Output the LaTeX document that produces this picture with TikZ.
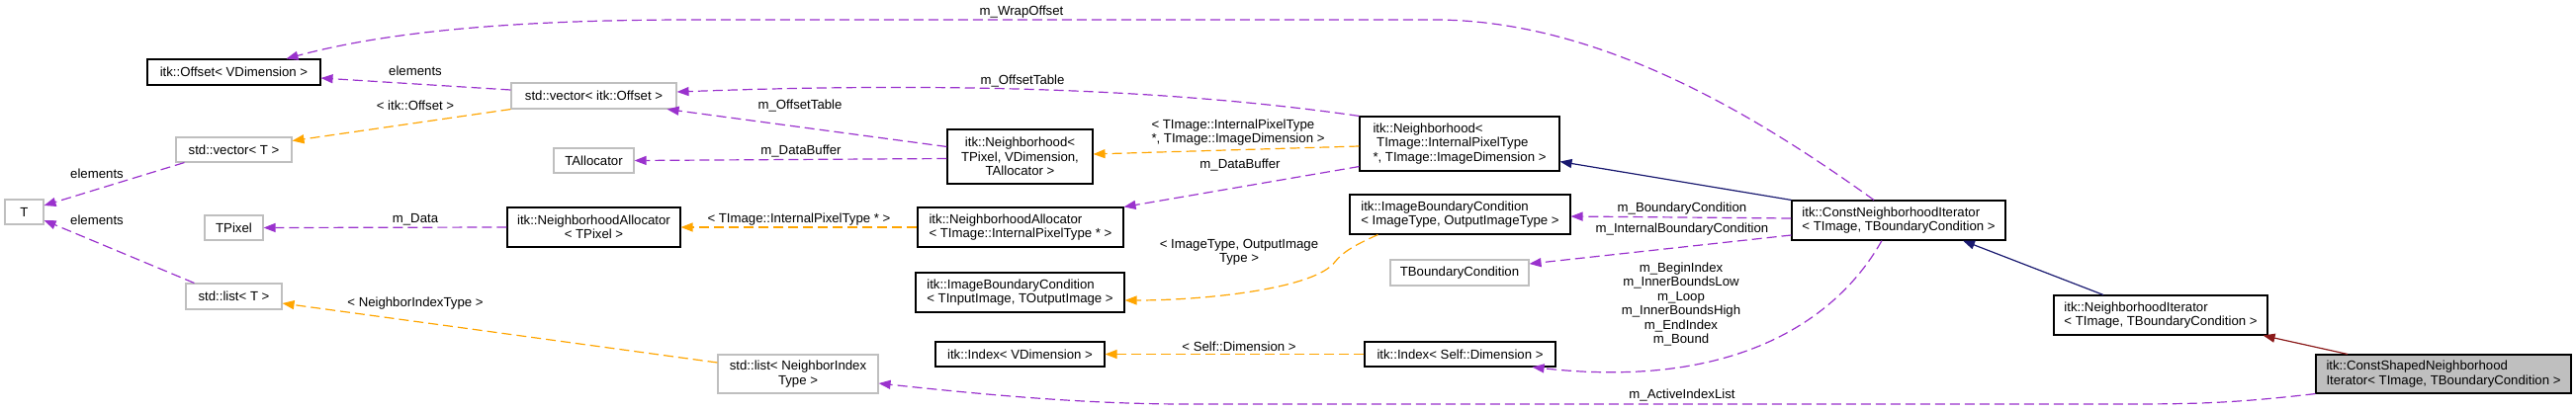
\documentclass[tikz,border=0pt]{standalone}
\usepackage{fontspec}
\setmainfont{Liberation Sans}
\usetikzlibrary{arrows.meta}
\definecolor{depc}{HTML}{9A32CD}
\definecolor{tplc}{HTML}{FFA500}
\definecolor{inhc}{HTML}{191970}
\definecolor{privc}{HTML}{8B1A1A}
\definecolor{undoc}{HTML}{BFBFBF}
\tikzset{
  docbox/.style={draw=black, fill=white, line width=1.1pt, inner sep=0pt},
  undocbox/.style={draw=undoc, fill=white, line width=1.1pt, inner sep=0pt},
  curbox/.style={draw=black, fill=undoc, line width=1.1pt, inner sep=0pt},
  lbl/.style={inner sep=0pt, align=center},
  tip/.style={-{Triangle[length=12pt,width=9pt]}},
  deparrow/.style={tip, draw=depc, line width=1.2pt, dash pattern=on 10pt off 5pt},
  tplarrow/.style={tip, draw=tplc, line width=1.2pt, dash pattern=on 10pt off 5pt},
  inharrow/.style={tip, draw=inhc, line width=1.2pt},
  privarrow/.style={tip, draw=privc, line width=1.2pt}
}
\begin{document}
\begin{tikzpicture}[x=1pt,y=-1pt,font=\fontsize{13.2}{14.4}\selectfont]
\useasboundingbox (0,0) rectangle (2605,415);
% nodes
\node[undocbox, minimum width=39, minimum height=25] (T) at (24.5,214.5) {T};
\node[docbox, minimum width=175, minimum height=26] (offset) at (236.5,73) {itk::Offset< VDimension >};
\node[undocbox, minimum width=167, minimum height=26] (vecoff) at (600.5,97) {std::vector< itk::Offset >};
\node[undocbox, minimum width=117, minimum height=25] (vecT) at (236.5,151.5) {std::vector< T >};
\node[undocbox, minimum width=81, minimum height=25] (talloc) at (600.5,162.5) {TAllocator};
\node[undocbox, minimum width=59, minimum height=25] (tpixel) at (236.5,230.5) {TPixel};
\node[docbox, minimum width=175, minimum height=40, align=center] (nallocP) at (600.5,230) {itk::NeighborhoodAllocator\\< TPixel >};
\node[undocbox, minimum width=97, minimum height=26] (listT) at (236.5,300) {std::list< T >};
\node[docbox, minimum width=147, minimum height=55, align=center] (nbP) at (1031.5,158.5) {itk::Neighborhood<\\TPixel, VDimension,\\TAllocator >};
\node[docbox, minimum width=208, minimum height=40, align=left] (nallocI) at (1032,230) {itk::NeighborhoodAllocator\\< TImage::InternalPixelType * >};
\node[docbox, minimum width=211, minimum height=40, align=left] (ibcIO) at (1031.5,296) {itk::ImageBoundaryCondition\\< TInputImage, TOutputImage >};
\node[docbox, minimum width=171, minimum height=25] (idxV) at (1031.5,358.5) {itk::Index< VDimension >};
\node[undocbox, minimum width=162, minimum height=39, align=center] (listN) at (807,378.5) {std::list< NeighborIndex\\Type >};
\node[docbox, minimum width=202, minimum height=55, align=left] (nbI) at (1476,145.5) {itk::Neighborhood<\\\ TImage::InternalPixelType\\*, TImage::ImageDimension >};
\node[docbox, minimum width=223, minimum height=40, align=left] (ibcIT) at (1476.5,217) {itk::ImageBoundaryCondition\\< ImageType, OutputImageType >};
\node[undocbox, minimum width=140, minimum height=26] (tbc) at (1476,276) {TBoundaryCondition};
\node[docbox, minimum width=193, minimum height=25] (idxS) at (1476.5,358.5) {itk::Index< Self::Dimension >};
\node[docbox, minimum width=216, minimum height=40, align=left] (cni) at (1920,223) {itk::ConstNeighborhoodIterator\\< TImage, TBoundaryCondition >};
\node[docbox, minimum width=216, minimum height=40, align=left] (ni) at (2185,319) {itk::NeighborhoodIterator\\< TImage, TBoundaryCondition >};
\node[curbox, minimum width=258, minimum height=39, align=left] (csni) at (2471,378.5) {itk::ConstShapedNeighborhood\\Iterator< TImage, TBoundaryCondition >};
% edges
\draw[deparrow] ([xshift=-25]cni.north) .. controls (1780,120) and (1620,20) .. (1450,20) -- (700,20) .. controls (500,20) and (380,35) .. ([xshift=53]offset.north);
\draw[deparrow] ([yshift=6]vecoff.west) -- ([yshift=-6]offset.east);
\draw[tplarrow] (vecoff.south west) -- ([yshift=9]vecT.east);
\draw[deparrow] ([xshift=9]vecT.south west) -- ([yshift=6.5]T.east);
\draw[deparrow] ([xshift=9]listT.north west) -- ([yshift=-8.5]T.east);
\draw[deparrow] (nallocP.west) -- (tpixel.east);
\draw[tplarrow] ([yshift=11.5]listN.west) -- ([yshift=-7]listT.east);
\draw[deparrow] (nbI.north west) .. controls (1150,85) and (900,85) .. ([yshift=4]vecoff.east);
\draw[deparrow] ([yshift=10]nbP.west) -- ([xshift=-10]vecoff.south east);
\draw[deparrow] ([yshift=-2]nbP.west) -- (talloc.east);
\draw[tplarrow] ([yshift=-2.5]nbI.west) -- ([yshift=2.5]nbP.east);
\draw[deparrow] ([yshift=5]nbI.south west) -- (nallocI.north east);
\draw[tplarrow] (nallocI.west) -- (nallocP.east);
\draw[tplarrow] ([xshift=29]ibcIT.south west) .. controls (1370,248) and (1358,255) .. (1350,265) .. controls (1330,292) and (1220,304) .. ([yshift=-8]ibcIO.east);
\draw[tplarrow] (idxS.west) -- (idxV.east);
\draw[inharrow] (cni.north west) -- ([yshift=10]nbI.south east);
\draw[deparrow] ([yshift=2]cni.west) -- ([yshift=-2]ibcIT.east);
\draw[deparrow] ([yshift=-15]cni.west) -- ([yshift=9]tbc.east);
\draw[deparrow] ([xshift=-17]cni.south) .. controls (1860,320) and (1760,395) .. ([xshift=-24]idxS.south east);
\draw[deparrow] (csni.south west) .. controls (2260,408) and (2220,409) .. (2150,409) -- (1200,409) .. controls (1100,409) and (1000,400) .. ([yshift=-9.5]listN.east);
\draw[inharrow] ([xshift=-58]ni.north) -- ([xshift=65]cni.south);
\draw[privarrow] ([xshift=-97]csni.north) -- ([xshift=-5]ni.south east);
% labels
\node[lbl] (l1) at (1033,12) {m\_WrapOffset};
\node[lbl] (l2) at (420,72) {elements};
\node[lbl] (l3) at (420,107) {< itk::Offset >};
\node[lbl] (l4) at (98,176) {elements};
\node[lbl] (l5) at (98,223) {elements};
\node[lbl] (l6) at (420,222) {m\_Data};
\node[lbl] (l7) at (420,307) {< NeighborIndexType >};
\node[lbl] (l8) at (1034,82) {m\_OffsetTable};
\node[lbl] (l9) at (809,107) {m\_OffsetTable};
\node[lbl] (l10) at (810,153) {m\_DataBuffer};
\node[lbl] (l11) at (1254,167) {m\_DataBuffer};
\node[lbl, align=left] (l12) at (1252,134) {< TImage::InternalPixelType\\*, TImage::ImageDimension >};
\node[lbl] (l13) at (808,222) {< TImage::InternalPixelType * >};
\node[lbl] (l14) at (1253,255) {< ImageType, OutputImage\\Type >};
\node[lbl] (l15) at (1253,351) {< Self::Dimension >};
\node[lbl] (l16) at (1701,211) {m\_BoundaryCondition};
\node[lbl] (l17) at (1701,232) {m\_InternalBoundaryCondition};
\node[lbl] (l18) at (1700,308) {m\_BeginIndex\\m\_InnerBoundsLow\\m\_Loop\\m\_InnerBoundsHigh\\m\_EndIndex\\m\_Bound};
\node[lbl] (l19) at (1701,400) {m\_ActiveIndexList};
\end{tikzpicture}
\end{document}
